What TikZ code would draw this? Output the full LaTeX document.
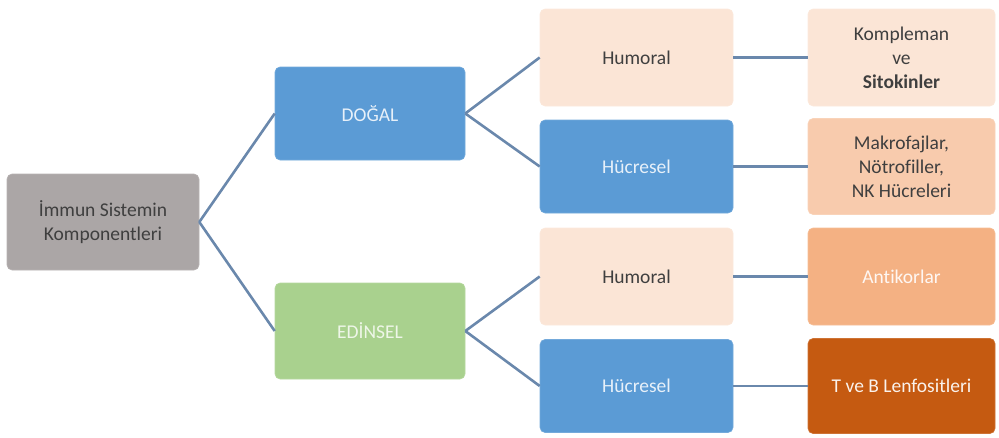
\documentclass[tikz,border=0pt]{standalone}
\usepackage{fontspec}
\setmainfont{Carlito}[Ligatures={NoCommon}]
\definecolor{cgray}{HTML}{ABA6A6}
\definecolor{cblue}{HTML}{5B9BD5}
\definecolor{cgreen}{HTML}{A9D18E}
\definecolor{cpeach}{HTML}{FBE5D6}
\definecolor{cpeach2}{HTML}{F8CBAD}
\definecolor{corange}{HTML}{F4B183}
\definecolor{cdark}{HTML}{C55A11}
\definecolor{cline}{HTML}{6A88AC}
\definecolor{ctext}{HTML}{3F3F3F}
\begin{document}
\begin{tikzpicture}[x=1pt,y=-1pt,
  box/.style={rounded corners=5pt, align=center, inner sep=2pt,
    font=\fontsize{19.5}{24}\selectfont, draw=#1!85!white, line width=0.6pt, fill=#1},
  conn/.style={draw=cline, line width=2.6pt}]
\useasboundingbox (0,0) rectangle (999,437);
\node[box=cgray, minimum width=192pt, minimum height=96pt, text=ctext] (root) at (103,222) {İmmun Sistemin\\Komponentleri};
\node[box=cblue, minimum width=190pt, minimum height=93pt, text=white!85!cblue] (dogal) at (370,113.5) {DOĞAL};
\node[box=cgreen, minimum width=190pt, minimum height=96pt, text=white!80!cgreen] (edinsel) at (370,331) {EDİNSEL};
\node[box=cpeach, minimum width=193pt, minimum height=97pt, text=ctext] (hum1) at (636.5,57.5) {Humoral};
\node[box=cblue, minimum width=193pt, minimum height=93pt, text=white!85!cblue] (huc1) at (636.5,166.5) {Hücresel};
\node[box=cpeach, minimum width=193pt, minimum height=97pt, text=ctext] (hum2) at (636.5,276.5) {Humoral};
\node[box=cblue, minimum width=193pt, minimum height=93pt, text=white!85!cblue] (huc2) at (636.5,386) {Hücresel};
\node[box=cpeach, minimum width=187pt, minimum height=97pt, text=ctext] (komp) at (901.5,57.5) {Kompleman\\ve\\\textbf{Sitokinler}};
\node[box=cpeach2, minimum width=187pt, minimum height=96pt, text=ctext] (makro) at (901.5,166.5) {Makrofajlar,\\Nötrofiller,\\NK Hücreleri};
\node[box=corange, minimum width=187pt, minimum height=97pt, text=white!90!corange] (anti) at (901.5,276.5) {Antikorlar};
\node[box=cdark, minimum width=187pt, minimum height=95pt, text=white!92!cdark] (tveb) at (901.5,386) {T ve B Lenfositleri};
\draw[conn] (root.east) -- (dogal.west);
\draw[conn] (root.east) -- (edinsel.west);
\draw[conn] (dogal.east) -- (hum1.west);
\draw[conn] (dogal.east) -- (huc1.west);
\draw[conn] (edinsel.east) -- (hum2.west);
\draw[conn] (edinsel.east) -- (huc2.west);
\draw[conn] (hum1.east) -- (komp.west);
\draw[conn] (huc1.east) -- (makro.west);
\draw[conn] (hum2.east) -- (anti.west);
\draw[conn] (huc2.east) -- (tveb.west);
\end{tikzpicture}
\end{document}
